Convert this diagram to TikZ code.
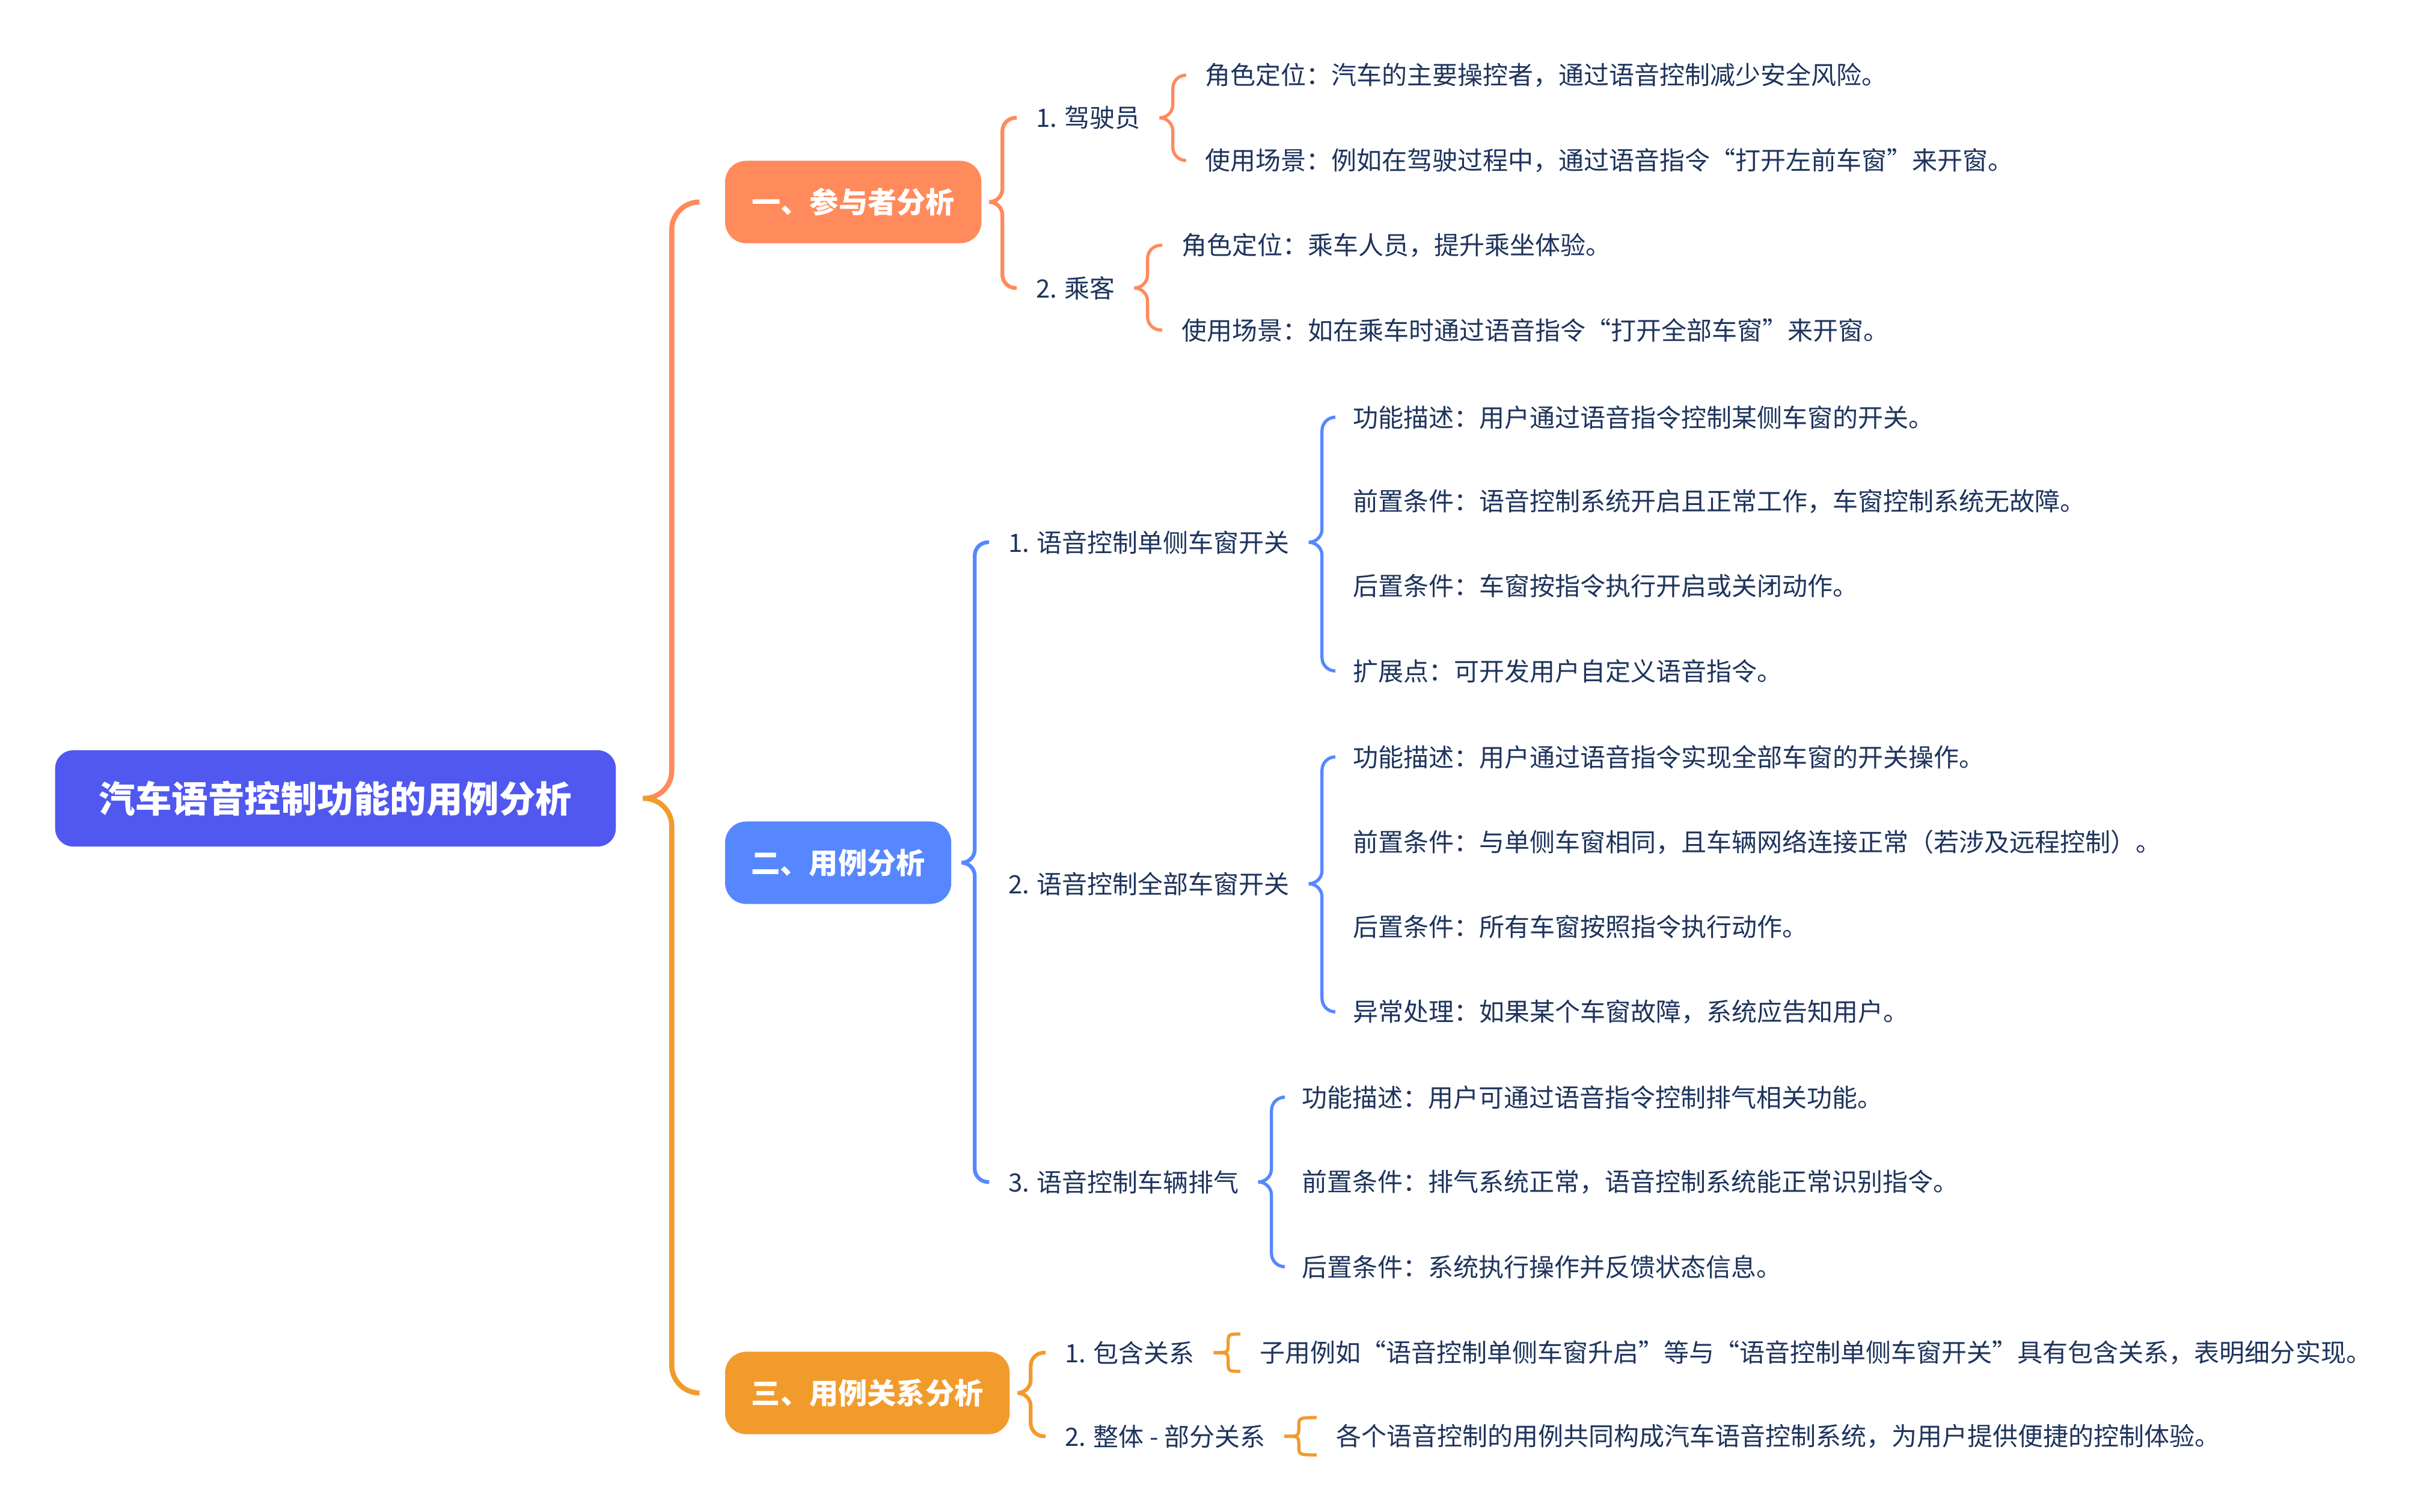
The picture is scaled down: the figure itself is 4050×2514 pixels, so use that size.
\documentclass[tikz,border=0pt]{standalone}
\usepackage{fontspec}
\setmainfont{Noto Sans CJK SC}
\usetikzlibrary{calc}
\definecolor{rootblue}{RGB}{80,88,240}
\definecolor{orangeA}{RGB}{255,138,91}
\definecolor{blueB}{RGB}{86,135,255}
\definecolor{orangeC}{RGB}{242,155,45}
\definecolor{textc}{RGB}{30,52,92}
\begin{document}
\begin{tikzpicture}[x=0.01cm,y=-0.01cm,
  txt/.style={inner sep=0pt, outer xsep=0.32cm, outer ysep=0pt, text=textc,
    font=\fontsize{11.95}{14}\selectfont, anchor=west},
  rootbox/.style={fill=rootblue, rounded corners=0.3cm, inner sep=0pt, outer sep=0pt,
    text=white, font=\bfseries\fontsize{17.2}{20}\selectfont,
    minimum width=9.32cm, minimum height=1.6cm},
  bbox/.style={rounded corners=0.35cm, inner sep=0pt, outer sep=0pt, text=white,
    font=\bfseries\fontsize{13.7}{16}\selectfont, minimum height=1.37cm, anchor=west},
  rootA/.style={draw=orangeA, line width=2.4pt, rounded corners=0.46cm},
  rootB/.style={draw=orangeC, line width=2.4pt, rounded corners=0.46cm},
  brA/.style={draw=orangeA, line width=1.8pt, rounded corners=0.22cm},
  brB/.style={draw=blueB, line width=1.8pt, rounded corners=0.22cm},
  brC/.style={draw=orangeC, line width=1.8pt, rounded corners=0.22cm},
  leafA/.style={draw=orangeA, line width=1.5pt, rounded corners=0.22cm},
  leafB/.style={draw=blueB, line width=1.5pt, rounded corners=0.22cm},
  leafC/.style={draw=orangeC, line width=1.5pt},
]
\useasboundingbox (0,0) rectangle (4050,2514);
\fill[white] (0,0) rectangle (4050,2514);

% root
\node[rootbox] (root) at (558,1328) {汽车语音控制功能的用例分析};

% main branches
\node[bbox, fill=orangeA, minimum width=4.26cm] (b1) at (1206,336) {一、参与者分析};
\node[bbox, fill=blueB, minimum width=3.76cm] (b2) at (1206,1435) {二、用例分析};
\node[bbox, fill=orangeC, minimum width=4.73cm] (b3) at (1206,2317) {三、用例关系分析};

% branch 1
\node[txt] (c11) at (1691,196) {1. 驾驶员};
\node[txt] (c12) at (1691,479) {2. 乘客};
\node[txt] (l111) at (1972,125) {角色定位：汽车的主要操控者，通过语音控制减少安全风险。};
\node[txt] (l112) at (1972,267) {使用场景：例如在驾驶过程中，通过语音指令“打开左前车窗”来开窗。};
\node[txt] (l121) at (1933,408) {角色定位：乘车人员，提升乘坐体验。};
\node[txt] (l122) at (1933,549) {使用场景：如在乘车时通过语音指令“打开全部车窗”来开窗。};

% branch 2
\node[txt] (c21) at (1645,902) {1. 语音控制单侧车窗开关};
\node[txt] (c22) at (1645,1470) {2. 语音控制全部车窗开关};
\node[txt] (c23) at (1645,1966) {3. 语音控制车辆排气};
\node[txt] (l211) at (2218,694) {功能描述：用户通过语音指令控制某侧车窗的开关。};
\node[txt] (l212) at (2218,834) {前置条件：语音控制系统开启且正常工作，车窗控制系统无故障。};
\node[txt] (l213) at (2218,975) {后置条件：车窗按指令执行开启或关闭动作。};
\node[txt] (l214) at (2218,1116) {扩展点：可开发用户自定义语音指令。};
\node[txt] (l221) at (2218,1259) {功能描述：用户通过语音指令实现全部车窗的开关操作。};
\node[txt] (l222) at (2218,1401) {前置条件：与单侧车窗相同，且车辆网络连接正常（若涉及远程控制）。};
\node[txt] (l223) at (2218,1542) {后置条件：所有车窗按照指令执行动作。};
\node[txt] (l224) at (2218,1683) {异常处理：如果某个车窗故障，系统应告知用户。};
\node[txt] (l231) at (2133,1825) {功能描述：用户可通过语音指令控制排气相关功能。};
\node[txt] (l232) at (2133,1966) {前置条件：排气系统正常，语音控制系统能正常识别指令。};
\node[txt] (l233) at (2133,2107) {后置条件：系统执行操作并反馈状态信息。};

% branch 3
\node[txt] (c31) at (1739,2250) {1. 包含关系};
\node[txt] (c32) at (1739,2389) {2. 整体 - 部分关系};
\node[txt] (l31) at (2063,2250) {子用例如“语音控制单侧车窗升启”等与“语音控制单侧车窗开关”具有包含关系，表明细分实现。};
\node[txt] (l32) at (2190,2389) {各个语音控制的用例共同构成汽车语音控制系统，为用户提供便捷的控制体验。};

% root brace
\draw[rootA] ([xshift=0.45cm]root.east) -- ++(48,0) |- ([xshift=-0.43cm]b1.west);
\draw[rootB] ([xshift=0.45cm]root.east) -- ++(48,0) |- ([xshift=-0.43cm]b3.west);

% branch braces
\draw[brA] ([xshift=0.13cm]b1.east) -- ++(22,0) |- (c11.west);
\draw[brA] ([xshift=0.13cm]b1.east) -- ++(22,0) |- (c12.west);
\draw[brB] ([xshift=0.17cm]b2.east) -- ++(22,0) |- (c21.west);
\draw[brB] ([xshift=0.17cm]b2.east) -- ++(22,0) |- (c23.west);
\draw[brC] ([xshift=0.13cm]b3.east) -- ++(22,0) |- (c31.west);
\draw[brC] ([xshift=0.13cm]b3.east) -- ++(22,0) |- (c32.west);

% leaf braces
\draw[leafA] (c11.east) -- ++(22,0) |- (l111.west);
\draw[leafA] (c11.east) -- ++(22,0) |- (l112.west);
\draw[leafA] (c12.east) -- ++(22,0) |- (l121.west);
\draw[leafA] (c12.east) -- ++(22,0) |- (l122.west);
\draw[leafB] (c21.east) -- ++(22,0) |- (l211.west);
\draw[leafB] (c21.east) -- ++(22,0) |- (l214.west);
\draw[leafB] (c22.east) -- ++(22,0) |- (l221.west);
\draw[leafB] (c22.east) -- ++(22,0) |- (l224.west);
\draw[leafB] (c23.east) -- ++(22,0) |- (l231.west);
\draw[leafB] (c23.east) -- ++(22,0) |- (l233.west);

% small braces of branch 3
\draw[leafC] (c31.east) .. controls ($(c31.east)+(24,0)$) .. ($(c31.east)+(24,-15)$)
  .. controls ($(c31.east)+(24,-31)$) .. ($(l31.west)+(0,-31)$);
\draw[leafC] (c31.east) .. controls ($(c31.east)+(24,0)$) .. ($(c31.east)+(24,15)$)
  .. controls ($(c31.east)+(24,31)$) .. ($(l31.west)+(0,31)$);
\draw[leafC] (c32.east) .. controls ($(c32.east)+(24,0)$) .. ($(c32.east)+(24,-15)$)
  .. controls ($(c32.east)+(24,-31)$) .. ($(l32.west)+(0,-31)$);
\draw[leafC] (c32.east) .. controls ($(c32.east)+(24,0)$) .. ($(c32.east)+(24,15)$)
  .. controls ($(c32.east)+(24,31)$) .. ($(l32.west)+(0,31)$);
\end{tikzpicture}
\end{document}
